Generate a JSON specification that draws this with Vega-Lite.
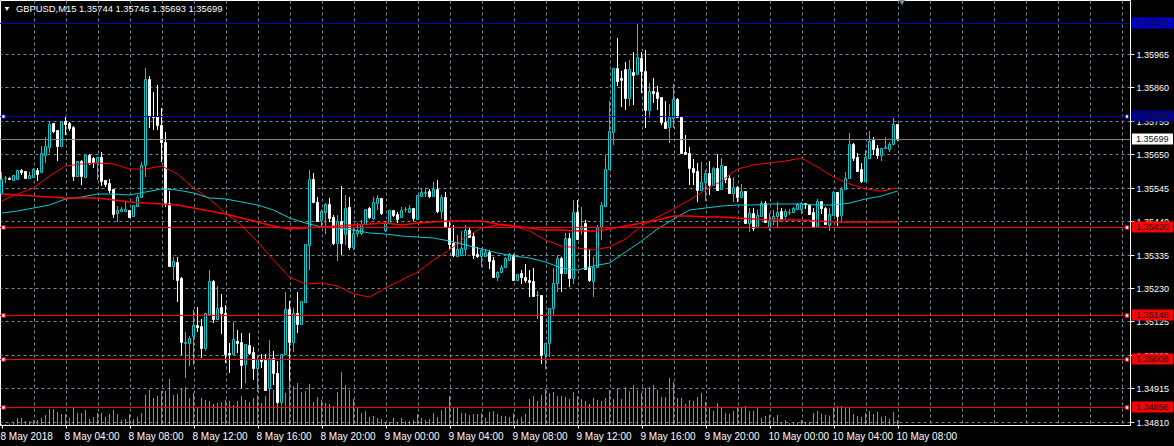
{"$schema":"https://vega.github.io/schema/vega-lite/v6.json","width":1130,"height":425,"autosize":{"type":"none"},"padding":{"left":0,"top":0,"right":44,"bottom":21},"background":"#000000","view":{"stroke":"#ffffff","strokeWidth":1,"fill":"#000000"},
"datasets":{
"bars":[
{"t":"2018-05-08T00:00Z","o":1.35529,"h":1.35595,"l":1.35529,"c":1.35573,"v":10},
{"t":"2018-05-08T00:15Z","o":1.35575,"h":1.35582,"l":1.3556,"c":1.35577,"v":10},
{"t":"2018-05-08T00:30Z","o":1.35577,"h":1.35579,"l":1.35569,"c":1.35573,"v":15},
{"t":"2018-05-08T00:45Z","o":1.3557,"h":1.35585,"l":1.35569,"c":1.35584,"v":20},
{"t":"2018-05-08T01:00Z","o":1.35573,"h":1.35601,"l":1.35569,"c":1.35601,"v":70},
{"t":"2018-05-08T01:15Z","o":1.35601,"h":1.35604,"l":1.35585,"c":1.35595,"v":70},
{"t":"2018-05-08T01:30Z","o":1.35598,"h":1.35598,"l":1.35575,"c":1.35575,"v":40},
{"t":"2018-05-08T01:45Z","o":1.35574,"h":1.35595,"l":1.35573,"c":1.35585,"v":40},
{"t":"2018-05-08T02:00Z","o":1.35579,"h":1.35607,"l":1.35579,"c":1.35604,"v":50},
{"t":"2018-05-08T02:15Z","o":1.35601,"h":1.35607,"l":1.35566,"c":1.35588,"v":50},
{"t":"2018-05-08T02:30Z","o":1.35595,"h":1.35676,"l":1.35591,"c":1.35655,"v":70},
{"t":"2018-05-08T02:45Z","o":1.35648,"h":1.35704,"l":1.35623,"c":1.35676,"v":100},
{"t":"2018-05-08T03:00Z","o":1.35673,"h":1.35752,"l":1.35655,"c":1.35745,"v":160},
{"t":"2018-05-08T03:15Z","o":1.35748,"h":1.35748,"l":1.35717,"c":1.35723,"v":160},
{"t":"2018-05-08T03:30Z","o":1.35726,"h":1.35726,"l":1.35629,"c":1.35676,"v":130},
{"t":"2018-05-08T03:45Z","o":1.35676,"h":1.35755,"l":1.35676,"c":1.35755,"v":110},
{"t":"2018-05-08T04:00Z","o":1.35755,"h":1.35767,"l":1.35711,"c":1.35745,"v":110},
{"t":"2018-05-08T04:15Z","o":1.35748,"h":1.35752,"l":1.35723,"c":1.35733,"v":70},
{"t":"2018-05-08T04:30Z","o":1.35736,"h":1.35739,"l":1.35566,"c":1.35582,"v":180},
{"t":"2018-05-08T04:45Z","o":1.35582,"h":1.35629,"l":1.35579,"c":1.35629,"v":120},
{"t":"2018-05-08T05:00Z","o":1.35629,"h":1.35632,"l":1.35553,"c":1.35582,"v":120},
{"t":"2018-05-08T05:15Z","o":1.35579,"h":1.35648,"l":1.35579,"c":1.35648,"v":150},
{"t":"2018-05-08T05:30Z","o":1.35648,"h":1.35651,"l":1.35616,"c":1.35623,"v":60},
{"t":"2018-05-08T05:45Z","o":1.35639,"h":1.35642,"l":1.35607,"c":1.35626,"v":80},
{"t":"2018-05-08T06:00Z","o":1.35626,"h":1.35642,"l":1.35569,"c":1.35642,"v":120},
{"t":"2018-05-08T06:15Z","o":1.35642,"h":1.35658,"l":1.3555,"c":1.35566,"v":120},
{"t":"2018-05-08T06:30Z","o":1.35569,"h":1.35569,"l":1.35547,"c":1.35557,"v":80},
{"t":"2018-05-08T06:45Z","o":1.3556,"h":1.35573,"l":1.35529,"c":1.35538,"v":110},
{"t":"2018-05-08T07:00Z","o":1.35541,"h":1.35541,"l":1.3545,"c":1.35462,"v":150},
{"t":"2018-05-08T07:15Z","o":1.35466,"h":1.35488,"l":1.35437,"c":1.35475,"v":110},
{"t":"2018-05-08T07:30Z","o":1.35472,"h":1.35484,"l":1.35469,"c":1.35478,"v":50},
{"t":"2018-05-08T07:45Z","o":1.35472,"h":1.355,"l":1.35469,"c":1.35477,"v":60},
{"t":"2018-05-08T08:00Z","o":1.35475,"h":1.35475,"l":1.3545,"c":1.35453,"v":110},
{"t":"2018-05-08T08:15Z","o":1.35456,"h":1.35491,"l":1.35453,"c":1.35491,"v":60},
{"t":"2018-05-08T08:30Z","o":1.35488,"h":1.35522,"l":1.35484,"c":1.35516,"v":80},
{"t":"2018-05-08T08:45Z","o":1.35516,"h":1.35626,"l":1.35513,"c":1.35616,"v":120},
{"t":"2018-05-08T09:00Z","o":1.35616,"h":1.35921,"l":1.35579,"c":1.35887,"v":300},
{"t":"2018-05-08T09:15Z","o":1.35887,"h":1.35896,"l":1.35733,"c":1.3577,"v":350},
{"t":"2018-05-08T09:30Z","o":1.3577,"h":1.35846,"l":1.35726,"c":1.35767,"v":270},
{"t":"2018-05-08T09:45Z","o":1.3577,"h":1.35868,"l":1.35726,"c":1.35742,"v":290},
{"t":"2018-05-08T10:00Z","o":1.35742,"h":1.35795,"l":1.35626,"c":1.35689,"v":340},
{"t":"2018-05-08T10:15Z","o":1.35689,"h":1.3572,"l":1.35484,"c":1.35497,"v":340},
{"t":"2018-05-08T10:30Z","o":1.35497,"h":1.35535,"l":1.35299,"c":1.35299,"v":460},
{"t":"2018-05-08T10:45Z","o":1.35299,"h":1.35327,"l":1.35255,"c":1.35315,"v":300},
{"t":"2018-05-08T11:00Z","o":1.35312,"h":1.35327,"l":1.35186,"c":1.35255,"v":310},
{"t":"2018-05-08T11:15Z","o":1.35261,"h":1.35264,"l":1.35019,"c":1.3506,"v":370},
{"t":"2018-05-08T11:30Z","o":1.35057,"h":1.35092,"l":1.34947,"c":1.3506,"v":380},
{"t":"2018-05-08T11:45Z","o":1.35057,"h":1.35079,"l":1.34985,"c":1.35072,"v":270},
{"t":"2018-05-08T12:00Z","o":1.35079,"h":1.35161,"l":1.34988,"c":1.35113,"v":320},
{"t":"2018-05-08T12:15Z","o":1.35113,"h":1.3517,"l":1.35092,"c":1.35107,"v":180},
{"t":"2018-05-08T12:30Z","o":1.3511,"h":1.35132,"l":1.3501,"c":1.35041,"v":270},
{"t":"2018-05-08T12:45Z","o":1.35041,"h":1.35151,"l":1.35032,"c":1.35151,"v":250},
{"t":"2018-05-08T13:00Z","o":1.35148,"h":1.35286,"l":1.35148,"c":1.35252,"v":240},
{"t":"2018-05-08T13:15Z","o":1.35252,"h":1.35255,"l":1.3512,"c":1.35132,"v":210},
{"t":"2018-05-08T13:30Z","o":1.35132,"h":1.35236,"l":1.35132,"c":1.35167,"v":220},
{"t":"2018-05-08T13:45Z","o":1.3517,"h":1.35211,"l":1.35085,"c":1.35151,"v":230},
{"t":"2018-05-08T14:00Z","o":1.35151,"h":1.35176,"l":1.34994,"c":1.35022,"v":250},
{"t":"2018-05-08T14:15Z","o":1.35025,"h":1.35057,"l":1.34962,"c":1.35022,"v":240},
{"t":"2018-05-08T14:30Z","o":1.35022,"h":1.35123,"l":1.35022,"c":1.35069,"v":200},
{"t":"2018-05-08T14:45Z","o":1.35063,"h":1.35098,"l":1.35025,"c":1.35057,"v":240},
{"t":"2018-05-08T15:00Z","o":1.3506,"h":1.35088,"l":1.34916,"c":1.34988,"v":290},
{"t":"2018-05-08T15:15Z","o":1.34991,"h":1.35054,"l":1.34931,"c":1.35054,"v":250},
{"t":"2018-05-08T15:30Z","o":1.35051,"h":1.35088,"l":1.35019,"c":1.35025,"v":230},
{"t":"2018-05-08T15:45Z","o":1.35028,"h":1.35044,"l":1.34941,"c":1.34979,"v":270},
{"t":"2018-05-08T16:00Z","o":1.34979,"h":1.35019,"l":1.34903,"c":1.35007,"v":300},
{"t":"2018-05-08T16:15Z","o":1.35007,"h":1.35022,"l":1.34979,"c":1.35001,"v":220},
{"t":"2018-05-08T16:30Z","o":1.35004,"h":1.35022,"l":1.34906,"c":1.34909,"v":290},
{"t":"2018-05-08T16:45Z","o":1.34916,"h":1.35066,"l":1.34916,"c":1.3501,"v":370},
{"t":"2018-05-08T17:00Z","o":1.3501,"h":1.35032,"l":1.34925,"c":1.34962,"v":350},
{"t":"2018-05-08T17:15Z","o":1.34962,"h":1.35001,"l":1.34865,"c":1.34872,"v":300},
{"t":"2018-05-08T17:30Z","o":1.34872,"h":1.35022,"l":1.34872,"c":1.35022,"v":370},
{"t":"2018-05-08T17:45Z","o":1.35022,"h":1.35217,"l":1.35019,"c":1.35164,"v":320},
{"t":"2018-05-08T18:00Z","o":1.35164,"h":1.35189,"l":1.34941,"c":1.3506,"v":450},
{"t":"2018-05-08T18:15Z","o":1.3506,"h":1.35167,"l":1.35028,"c":1.35151,"v":390},
{"t":"2018-05-08T18:30Z","o":1.35151,"h":1.35217,"l":1.35088,"c":1.35117,"v":420},
{"t":"2018-05-08T18:45Z","o":1.35117,"h":1.35189,"l":1.35113,"c":1.35189,"v":330},
{"t":"2018-05-08T19:00Z","o":1.35186,"h":1.35368,"l":1.35186,"c":1.35368,"v":340},
{"t":"2018-05-08T19:15Z","o":1.35365,"h":1.35601,"l":1.35286,"c":1.35573,"v":410},
{"t":"2018-05-08T19:30Z","o":1.35573,"h":1.35591,"l":1.35497,"c":1.355,"v":230},
{"t":"2018-05-08T19:45Z","o":1.355,"h":1.35516,"l":1.35437,"c":1.3544,"v":280},
{"t":"2018-05-08T20:00Z","o":1.35444,"h":1.35478,"l":1.35422,"c":1.35472,"v":250},
{"t":"2018-05-08T20:15Z","o":1.35469,"h":1.35497,"l":1.354,"c":1.35494,"v":220},
{"t":"2018-05-08T20:30Z","o":1.35494,"h":1.35513,"l":1.35437,"c":1.3545,"v":210},
{"t":"2018-05-08T20:45Z","o":1.35453,"h":1.35459,"l":1.35365,"c":1.35371,"v":190},
{"t":"2018-05-08T21:00Z","o":1.35371,"h":1.35459,"l":1.35315,"c":1.3544,"v":330},
{"t":"2018-05-08T21:15Z","o":1.3544,"h":1.3555,"l":1.35333,"c":1.35371,"v":530},
{"t":"2018-05-08T21:30Z","o":1.354,"h":1.35522,"l":1.35365,"c":1.35481,"v":400},
{"t":"2018-05-08T21:45Z","o":1.35484,"h":1.35516,"l":1.35349,"c":1.35359,"v":350},
{"t":"2018-05-08T22:00Z","o":1.35359,"h":1.35419,"l":1.35349,"c":1.35403,"v":260},
{"t":"2018-05-08T22:15Z","o":1.35403,"h":1.35434,"l":1.3539,"c":1.35412,"v":170},
{"t":"2018-05-08T22:30Z","o":1.35403,"h":1.35444,"l":1.35396,"c":1.35431,"v":120},
{"t":"2018-05-08T22:45Z","o":1.35431,"h":1.35478,"l":1.35428,"c":1.35478,"v":140},
{"t":"2018-05-08T23:00Z","o":1.35481,"h":1.35484,"l":1.35447,"c":1.35453,"v":80},
{"t":"2018-05-08T23:15Z","o":1.3545,"h":1.35516,"l":1.35444,"c":1.355,"v":90},
{"t":"2018-05-08T23:30Z","o":1.35497,"h":1.35522,"l":1.35475,"c":1.35513,"v":70},
{"t":"2018-05-08T23:45Z","o":1.35513,"h":1.35513,"l":1.35459,"c":1.35466,"v":60},
{"t":"2018-05-09T00:00Z","o":1.35412,"h":1.3544,"l":1.35406,"c":1.35434,"v":30},
{"t":"2018-05-09T00:15Z","o":1.35434,"h":1.35475,"l":1.35434,"c":1.35475,"v":30},
{"t":"2018-05-09T00:30Z","o":1.35475,"h":1.35475,"l":1.35453,"c":1.35459,"v":70},
{"t":"2018-05-09T00:45Z","o":1.35462,"h":1.35469,"l":1.35434,"c":1.35447,"v":30},
{"t":"2018-05-09T01:00Z","o":1.35453,"h":1.35484,"l":1.35453,"c":1.35475,"v":70},
{"t":"2018-05-09T01:15Z","o":1.35477,"h":1.35484,"l":1.35469,"c":1.35477,"v":40},
{"t":"2018-05-09T01:30Z","o":1.35469,"h":1.35491,"l":1.35469,"c":1.35481,"v":40},
{"t":"2018-05-09T01:45Z","o":1.35481,"h":1.35481,"l":1.3544,"c":1.3545,"v":50},
{"t":"2018-05-09T02:00Z","o":1.35447,"h":1.35522,"l":1.35447,"c":1.35522,"v":110},
{"t":"2018-05-09T02:15Z","o":1.35519,"h":1.35544,"l":1.35516,"c":1.35532,"v":70},
{"t":"2018-05-09T02:30Z","o":1.35529,"h":1.35544,"l":1.35516,"c":1.35532,"v":50},
{"t":"2018-05-09T02:45Z","o":1.35535,"h":1.35541,"l":1.35513,"c":1.35519,"v":60},
{"t":"2018-05-09T03:00Z","o":1.35519,"h":1.35563,"l":1.35516,"c":1.35541,"v":120},
{"t":"2018-05-09T03:15Z","o":1.35541,"h":1.35569,"l":1.35466,"c":1.35472,"v":80},
{"t":"2018-05-09T03:30Z","o":1.35472,"h":1.35522,"l":1.35447,"c":1.35516,"v":150},
{"t":"2018-05-09T03:45Z","o":1.35516,"h":1.35532,"l":1.35419,"c":1.35422,"v":170},
{"t":"2018-05-09T04:00Z","o":1.35422,"h":1.35437,"l":1.35352,"c":1.35368,"v":290},
{"t":"2018-05-09T04:15Z","o":1.35371,"h":1.35428,"l":1.35327,"c":1.35333,"v":170},
{"t":"2018-05-09T04:30Z","o":1.3533,"h":1.35396,"l":1.35327,"c":1.35352,"v":170},
{"t":"2018-05-09T04:45Z","o":1.35333,"h":1.35409,"l":1.3533,"c":1.35355,"v":120},
{"t":"2018-05-09T05:00Z","o":1.35352,"h":1.35428,"l":1.3533,"c":1.35412,"v":120},
{"t":"2018-05-09T05:15Z","o":1.35412,"h":1.35419,"l":1.3539,"c":1.3539,"v":100},
{"t":"2018-05-09T05:30Z","o":1.35393,"h":1.35403,"l":1.35321,"c":1.35333,"v":110},
{"t":"2018-05-09T05:45Z","o":1.35337,"h":1.35359,"l":1.35324,"c":1.3533,"v":110},
{"t":"2018-05-09T06:00Z","o":1.3533,"h":1.35355,"l":1.35296,"c":1.35349,"v":120},
{"t":"2018-05-09T06:15Z","o":1.3533,"h":1.35352,"l":1.35327,"c":1.35343,"v":70},
{"t":"2018-05-09T06:30Z","o":1.35343,"h":1.35349,"l":1.3529,"c":1.35315,"v":130},
{"t":"2018-05-09T06:45Z","o":1.35318,"h":1.35327,"l":1.35261,"c":1.35264,"v":140},
{"t":"2018-05-09T07:00Z","o":1.35264,"h":1.35283,"l":1.35252,"c":1.3528,"v":110},
{"t":"2018-05-09T07:15Z","o":1.3528,"h":1.35302,"l":1.3528,"c":1.35296,"v":90},
{"t":"2018-05-09T07:30Z","o":1.35296,"h":1.35327,"l":1.35296,"c":1.35324,"v":90},
{"t":"2018-05-09T07:45Z","o":1.35318,"h":1.3534,"l":1.35318,"c":1.35337,"v":80},
{"t":"2018-05-09T08:00Z","o":1.35333,"h":1.35337,"l":1.35252,"c":1.35255,"v":120},
{"t":"2018-05-09T08:15Z","o":1.35255,"h":1.35273,"l":1.35252,"c":1.35273,"v":60},
{"t":"2018-05-09T08:30Z","o":1.35277,"h":1.35286,"l":1.35242,"c":1.35264,"v":80},
{"t":"2018-05-09T08:45Z","o":1.35264,"h":1.35305,"l":1.35245,"c":1.35255,"v":110},
{"t":"2018-05-09T09:00Z","o":1.35255,"h":1.35286,"l":1.35202,"c":1.35249,"v":260},
{"t":"2018-05-09T09:15Z","o":1.35252,"h":1.35293,"l":1.35202,"c":1.35205,"v":290},
{"t":"2018-05-09T09:30Z","o":1.35208,"h":1.35221,"l":1.35132,"c":1.35208,"v":240},
{"t":"2018-05-09T09:45Z","o":1.35208,"h":1.35208,"l":1.34991,"c":1.35019,"v":300},
{"t":"2018-05-09T10:00Z","o":1.35022,"h":1.35057,"l":1.34975,"c":1.35057,"v":360},
{"t":"2018-05-09T10:15Z","o":1.35057,"h":1.35167,"l":1.35013,"c":1.35167,"v":320},
{"t":"2018-05-09T10:30Z","o":1.35167,"h":1.35293,"l":1.35145,"c":1.35245,"v":330},
{"t":"2018-05-09T10:45Z","o":1.35245,"h":1.35333,"l":1.35217,"c":1.35324,"v":290},
{"t":"2018-05-09T11:00Z","o":1.35324,"h":1.35327,"l":1.35217,"c":1.35277,"v":290},
{"t":"2018-05-09T11:15Z","o":1.35277,"h":1.35403,"l":1.35277,"c":1.35387,"v":280},
{"t":"2018-05-09T11:30Z","o":1.35387,"h":1.35403,"l":1.35233,"c":1.35261,"v":260},
{"t":"2018-05-09T11:45Z","o":1.35261,"h":1.35506,"l":1.35242,"c":1.35469,"v":330},
{"t":"2018-05-09T12:00Z","o":1.35469,"h":1.35506,"l":1.35381,"c":1.35384,"v":290},
{"t":"2018-05-09T12:15Z","o":1.35415,"h":1.35484,"l":1.35396,"c":1.35425,"v":260},
{"t":"2018-05-09T12:30Z","o":1.35434,"h":1.35444,"l":1.3529,"c":1.3529,"v":240},
{"t":"2018-05-09T12:45Z","o":1.35296,"h":1.35349,"l":1.35249,"c":1.35255,"v":210},
{"t":"2018-05-09T13:00Z","o":1.35252,"h":1.35327,"l":1.35202,"c":1.35296,"v":270},
{"t":"2018-05-09T13:15Z","o":1.35296,"h":1.35428,"l":1.35293,"c":1.35422,"v":250},
{"t":"2018-05-09T13:30Z","o":1.35422,"h":1.355,"l":1.35381,"c":1.35491,"v":240},
{"t":"2018-05-09T13:45Z","o":1.35488,"h":1.35648,"l":1.35488,"c":1.35604,"v":270},
{"t":"2018-05-09T14:00Z","o":1.35604,"h":1.35818,"l":1.35604,"c":1.35723,"v":350},
{"t":"2018-05-09T14:15Z","o":1.3572,"h":1.35921,"l":1.35679,"c":1.35921,"v":260},
{"t":"2018-05-09T14:30Z","o":1.35921,"h":1.36016,"l":1.35865,"c":1.35881,"v":370},
{"t":"2018-05-09T14:45Z","o":1.3589,"h":1.35912,"l":1.35799,"c":1.35884,"v":260},
{"t":"2018-05-09T15:00Z","o":1.35918,"h":1.3594,"l":1.35789,"c":1.35827,"v":380},
{"t":"2018-05-09T15:15Z","o":1.35827,"h":1.35946,"l":1.35802,"c":1.35918,"v":340},
{"t":"2018-05-09T15:30Z","o":1.35909,"h":1.35972,"l":1.35805,"c":1.35899,"v":400},
{"t":"2018-05-09T15:45Z","o":1.35902,"h":1.36063,"l":1.35899,"c":1.35956,"v":350},
{"t":"2018-05-09T16:00Z","o":1.35953,"h":1.35972,"l":1.35843,"c":1.35912,"v":320},
{"t":"2018-05-09T16:15Z","o":1.35912,"h":1.35978,"l":1.35733,"c":1.35789,"v":370},
{"t":"2018-05-09T16:30Z","o":1.35789,"h":1.35874,"l":1.35764,"c":1.35849,"v":380},
{"t":"2018-05-09T16:45Z","o":1.35849,"h":1.3589,"l":1.35811,"c":1.35843,"v":400},
{"t":"2018-05-09T17:00Z","o":1.35846,"h":1.35865,"l":1.35789,"c":1.35827,"v":350},
{"t":"2018-05-09T17:15Z","o":1.3583,"h":1.3583,"l":1.35742,"c":1.35752,"v":280},
{"t":"2018-05-09T17:30Z","o":1.35752,"h":1.35818,"l":1.35733,"c":1.35733,"v":280},
{"t":"2018-05-09T17:45Z","o":1.35736,"h":1.35808,"l":1.35686,"c":1.35767,"v":470},
{"t":"2018-05-09T18:00Z","o":1.35764,"h":1.35871,"l":1.35733,"c":1.35824,"v":430},
{"t":"2018-05-09T18:15Z","o":1.35824,"h":1.35827,"l":1.35767,"c":1.35767,"v":270},
{"t":"2018-05-09T18:30Z","o":1.35767,"h":1.35767,"l":1.35655,"c":1.35655,"v":270},
{"t":"2018-05-09T18:45Z","o":1.35658,"h":1.35711,"l":1.35651,"c":1.35651,"v":210},
{"t":"2018-05-09T19:00Z","o":1.35655,"h":1.35673,"l":1.35553,"c":1.35607,"v":250},
{"t":"2018-05-09T19:15Z","o":1.35607,"h":1.35635,"l":1.35553,"c":1.35595,"v":240},
{"t":"2018-05-09T19:30Z","o":1.35598,"h":1.35623,"l":1.355,"c":1.35538,"v":280},
{"t":"2018-05-09T19:45Z","o":1.35538,"h":1.35626,"l":1.35535,"c":1.35563,"v":320},
{"t":"2018-05-09T20:00Z","o":1.35563,"h":1.35601,"l":1.35503,"c":1.35591,"v":230},
{"t":"2018-05-09T20:15Z","o":1.35591,"h":1.35629,"l":1.35522,"c":1.35553,"v":170},
{"t":"2018-05-09T20:30Z","o":1.35553,"h":1.3561,"l":1.35553,"c":1.35607,"v":140},
{"t":"2018-05-09T20:45Z","o":1.35607,"h":1.35651,"l":1.35535,"c":1.35538,"v":220},
{"t":"2018-05-09T21:00Z","o":1.35541,"h":1.35639,"l":1.35538,"c":1.35616,"v":170},
{"t":"2018-05-09T21:15Z","o":1.35613,"h":1.35613,"l":1.3556,"c":1.35573,"v":120},
{"t":"2018-05-09T21:30Z","o":1.35575,"h":1.35585,"l":1.35525,"c":1.35529,"v":110},
{"t":"2018-05-09T21:45Z","o":1.35529,"h":1.35579,"l":1.355,"c":1.35547,"v":140},
{"t":"2018-05-09T22:00Z","o":1.35547,"h":1.3555,"l":1.355,"c":1.35516,"v":170},
{"t":"2018-05-09T22:15Z","o":1.35516,"h":1.35557,"l":1.35516,"c":1.35535,"v":170},
{"t":"2018-05-09T22:30Z","o":1.35535,"h":1.35535,"l":1.35434,"c":1.35434,"v":190},
{"t":"2018-05-09T22:45Z","o":1.35434,"h":1.35481,"l":1.35406,"c":1.35466,"v":140},
{"t":"2018-05-09T23:00Z","o":1.35466,"h":1.35481,"l":1.35409,"c":1.35419,"v":140},
{"t":"2018-05-09T23:15Z","o":1.35422,"h":1.35475,"l":1.35422,"c":1.35459,"v":170},
{"t":"2018-05-09T23:30Z","o":1.35456,"h":1.35503,"l":1.35453,"c":1.35497,"v":70},
{"t":"2018-05-09T23:45Z","o":1.35497,"h":1.35503,"l":1.35434,"c":1.35437,"v":90},
{"t":"2018-05-10T00:00Z","o":1.35422,"h":1.35466,"l":1.35409,"c":1.35444,"v":100},
{"t":"2018-05-10T00:15Z","o":1.35444,"h":1.35475,"l":1.35428,"c":1.35456,"v":80},
{"t":"2018-05-10T00:30Z","o":1.35456,"h":1.355,"l":1.35419,"c":1.35469,"v":100},
{"t":"2018-05-10T00:45Z","o":1.35472,"h":1.35481,"l":1.35447,"c":1.35447,"v":30},
{"t":"2018-05-10T01:00Z","o":1.35456,"h":1.35478,"l":1.35447,"c":1.35472,"v":50},
{"t":"2018-05-10T01:15Z","o":1.35469,"h":1.35478,"l":1.35459,"c":1.35469,"v":20},
{"t":"2018-05-10T01:30Z","o":1.35469,"h":1.35484,"l":1.35469,"c":1.35481,"v":20},
{"t":"2018-05-10T01:45Z","o":1.35478,"h":1.35497,"l":1.35478,"c":1.35494,"v":20},
{"t":"2018-05-10T02:00Z","o":1.35478,"h":1.355,"l":1.35462,"c":1.35497,"v":50},
{"t":"2018-05-10T02:15Z","o":1.35497,"h":1.35497,"l":1.35478,"c":1.35494,"v":20},
{"t":"2018-05-10T02:30Z","o":1.35491,"h":1.35491,"l":1.35459,"c":1.35462,"v":30},
{"t":"2018-05-10T02:45Z","o":1.35469,"h":1.35481,"l":1.35419,"c":1.35422,"v":120},
{"t":"2018-05-10T03:00Z","o":1.35422,"h":1.3551,"l":1.35422,"c":1.35503,"v":140},
{"t":"2018-05-10T03:15Z","o":1.35503,"h":1.35503,"l":1.35462,"c":1.35481,"v":110},
{"t":"2018-05-10T03:30Z","o":1.35481,"h":1.35484,"l":1.35428,"c":1.35431,"v":100},
{"t":"2018-05-10T03:45Z","o":1.35428,"h":1.35481,"l":1.35409,"c":1.35462,"v":90},
{"t":"2018-05-10T04:00Z","o":1.35459,"h":1.35535,"l":1.35456,"c":1.35532,"v":180},
{"t":"2018-05-10T04:15Z","o":1.35532,"h":1.35532,"l":1.35425,"c":1.35456,"v":190},
{"t":"2018-05-10T04:30Z","o":1.35459,"h":1.35547,"l":1.35434,"c":1.35541,"v":190},
{"t":"2018-05-10T04:45Z","o":1.35541,"h":1.35595,"l":1.35541,"c":1.35575,"v":180},
{"t":"2018-05-10T05:00Z","o":1.35575,"h":1.35717,"l":1.35575,"c":1.35682,"v":170},
{"t":"2018-05-10T05:15Z","o":1.35682,"h":1.35686,"l":1.35629,"c":1.35639,"v":110},
{"t":"2018-05-10T05:30Z","o":1.35642,"h":1.35655,"l":1.35598,"c":1.35598,"v":90},
{"t":"2018-05-10T05:45Z","o":1.35604,"h":1.35623,"l":1.3556,"c":1.35566,"v":80},
{"t":"2018-05-10T06:00Z","o":1.35566,"h":1.35664,"l":1.35566,"c":1.35642,"v":120},
{"t":"2018-05-10T06:15Z","o":1.35639,"h":1.35723,"l":1.35639,"c":1.35692,"v":140},
{"t":"2018-05-10T06:30Z","o":1.35695,"h":1.35704,"l":1.35648,"c":1.35667,"v":110},
{"t":"2018-05-10T06:45Z","o":1.3567,"h":1.35679,"l":1.35635,"c":1.35648,"v":130},
{"t":"2018-05-10T07:00Z","o":1.35648,"h":1.3567,"l":1.35629,"c":1.3567,"v":80},
{"t":"2018-05-10T07:15Z","o":1.3567,"h":1.35704,"l":1.35667,"c":1.35673,"v":90},
{"t":"2018-05-10T07:30Z","o":1.35667,"h":1.35689,"l":1.35658,"c":1.35682,"v":60},
{"t":"2018-05-10T07:45Z","o":1.35682,"h":1.35764,"l":1.35682,"c":1.35745,"v":130},
{"t":"2018-05-10T08:00Z","o":1.35744,"h":1.35745,"l":1.35693,"c":1.35699,"v":50}
],
"ma":[
{"t":"2018-05-08T00:00Z","fast":1.35503,"mid":1.35467,"slow":1.35525},
{"t":"2018-05-08T01:00Z","fast":1.35524,"mid":1.35473,"slow":1.35522},
{"t":"2018-05-08T02:00Z","fast":1.35544,"mid":1.35481,"slow":1.35519},
{"t":"2018-05-08T03:00Z","fast":1.35582,"mid":1.35491,"slow":1.35517},
{"t":"2018-05-08T04:00Z","fast":1.35613,"mid":1.3551,"slow":1.35514},
{"t":"2018-05-08T05:00Z","fast":1.35621,"mid":1.35517,"slow":1.35514},
{"t":"2018-05-08T06:00Z","fast":1.35623,"mid":1.35525,"slow":1.35514},
{"t":"2018-05-08T07:00Z","fast":1.35619,"mid":1.35524,"slow":1.35506},
{"t":"2018-05-08T08:00Z","fast":1.35604,"mid":1.35522,"slow":1.355},
{"t":"2018-05-08T09:00Z","fast":1.35604,"mid":1.3553,"slow":1.35497},
{"t":"2018-05-08T10:00Z","fast":1.35613,"mid":1.35541,"slow":1.35494},
{"t":"2018-05-08T11:00Z","fast":1.35588,"mid":1.35538,"slow":1.35491},
{"t":"2018-05-08T12:00Z","fast":1.35544,"mid":1.35527,"slow":1.3548},
{"t":"2018-05-08T13:00Z","fast":1.3551,"mid":1.35513,"slow":1.35472},
{"t":"2018-05-08T14:00Z","fast":1.35466,"mid":1.3551,"slow":1.35462},
{"t":"2018-05-08T15:00Z","fast":1.35428,"mid":1.355,"slow":1.3545},
{"t":"2018-05-08T16:00Z","fast":1.35374,"mid":1.35492,"slow":1.35437},
{"t":"2018-05-08T17:00Z","fast":1.35318,"mid":1.35475,"slow":1.35425},
{"t":"2018-05-08T18:00Z","fast":1.35264,"mid":1.3545,"slow":1.35415},
{"t":"2018-05-08T19:00Z","fast":1.35242,"mid":1.35434,"slow":1.35417},
{"t":"2018-05-08T20:00Z","fast":1.35244,"mid":1.35423,"slow":1.35422},
{"t":"2018-05-08T21:00Z","fast":1.35236,"mid":1.35419,"slow":1.35425},
{"t":"2018-05-08T22:00Z","fast":1.35211,"mid":1.35412,"slow":1.35428},
{"t":"2018-05-08T23:00Z","fast":1.35202,"mid":1.35403,"slow":1.35431},
{"t":"2018-05-09T00:00Z","fast":1.3523,"mid":1.35398,"slow":1.35434},
{"t":"2018-05-09T01:00Z","fast":1.35255,"mid":1.35393,"slow":1.35429},
{"t":"2018-05-09T02:00Z","fast":1.3528,"mid":1.3539,"slow":1.35434},
{"t":"2018-05-09T03:00Z","fast":1.35318,"mid":1.35387,"slow":1.35437},
{"t":"2018-05-09T04:00Z","fast":1.35349,"mid":1.35379,"slow":1.3544},
{"t":"2018-05-09T05:00Z","fast":1.3539,"mid":1.35365,"slow":1.3544},
{"t":"2018-05-09T06:00Z","fast":1.35419,"mid":1.35351,"slow":1.3544},
{"t":"2018-05-09T07:00Z","fast":1.35428,"mid":1.35341,"slow":1.35432},
{"t":"2018-05-09T08:00Z","fast":1.35425,"mid":1.3533,"slow":1.35425},
{"t":"2018-05-09T09:00Z","fast":1.35409,"mid":1.35323,"slow":1.35419},
{"t":"2018-05-09T10:00Z","fast":1.35381,"mid":1.35312,"slow":1.35412},
{"t":"2018-05-09T11:00Z","fast":1.35362,"mid":1.35293,"slow":1.35411},
{"t":"2018-05-09T12:00Z","fast":1.35355,"mid":1.35286,"slow":1.35409},
{"t":"2018-05-09T13:00Z","fast":1.35349,"mid":1.35299,"slow":1.35409},
{"t":"2018-05-09T14:00Z","fast":1.35359,"mid":1.35308,"slow":1.35414},
{"t":"2018-05-09T15:00Z","fast":1.35384,"mid":1.35343,"slow":1.35425},
{"t":"2018-05-09T16:00Z","fast":1.35425,"mid":1.35378,"slow":1.35434},
{"t":"2018-05-09T17:00Z","fast":1.35453,"mid":1.35415,"slow":1.35445},
{"t":"2018-05-09T18:00Z","fast":1.35478,"mid":1.35447,"slow":1.35455},
{"t":"2018-05-09T19:00Z","fast":1.35506,"mid":1.35475,"slow":1.35456},
{"t":"2018-05-09T20:00Z","fast":1.35538,"mid":1.35481,"slow":1.35453},
{"t":"2018-05-09T21:00Z","fast":1.35566,"mid":1.35488,"slow":1.35452},
{"t":"2018-05-09T22:00Z","fast":1.35604,"mid":1.35491,"slow":1.3545},
{"t":"2018-05-09T23:00Z","fast":1.35616,"mid":1.35492,"slow":1.35448},
{"t":"2018-05-10T00:00Z","fast":1.35623,"mid":1.35494,"slow":1.35445},
{"t":"2018-05-10T01:00Z","fast":1.35629,"mid":1.35494,"slow":1.35444},
{"t":"2018-05-10T02:00Z","fast":1.35639,"mid":1.35494,"slow":1.35442},
{"t":"2018-05-10T03:00Z","fast":1.3561,"mid":1.35491,"slow":1.3544},
{"t":"2018-05-10T04:00Z","fast":1.35579,"mid":1.35491,"slow":1.35437},
{"t":"2018-05-10T05:00Z","fast":1.35557,"mid":1.35497,"slow":1.35437},
{"t":"2018-05-10T06:00Z","fast":1.35541,"mid":1.35508,"slow":1.35437},
{"t":"2018-05-10T07:00Z","fast":1.35535,"mid":1.35519,"slow":1.35437},
{"t":"2018-05-10T08:00Z","fast":1.35543,"mid":1.35535,"slow":1.35437}
],
"levels":[
{"p":1.36062,"kind":"upper","selected":false},
{"p":1.35769,"kind":"near","selected":true},
{"p":1.35699,"kind":"bid","selected":false},
{"p":1.3542,"kind":"support","selected":true},
{"p":1.35146,"kind":"support","selected":true},
{"p":1.35008,"kind":"support","selected":true},
{"p":1.34856,"kind":"support","selected":true}
],
"caption":[{"label":"GBPUSD,M15  1.35744 1.35745 1.35693 1.35699"}]
},
"layer":[
{"data":{"name":"bars"},"mark":{"type":"bar","size":1,"color":"#32cd32"},
"encoding":{
"x":{"field":"t","type":"temporal","scale":{"type":"utc","padding":0,"domain":[1525737262500,1525991512500]},"axis":{"title":null,"orient":"bottom","domain":false,"ticks":false,"labels":false,"grid":true,"tickCount":100,"gridColor":"#778899","gridDash":[3,3],"gridWidth":1,"values":[1525744800000,1525752000000,1525759200000,1525766400000,1525773600000,1525780800000,1525788000000,1525795200000,1525802400000,1525809600000,1525816800000,1525824000000,1525831200000,1525838400000,1525845600000,1525852800000,1525860000000,1525867200000,1525874400000,1525881600000,1525888800000,1525896000000,1525903200000,1525910400000,1525917600000,1525924800000,1525932000000,1525939200000,1525946400000,1525953600000,1525960800000,1525968000000,1525975200000,1525982400000,1525989600000]}},
"y":{"field":"v","type":"quantitative","scale":{"domain":[0,4250]},"axis":null}}},
{"layer":[
{"data":{"name":"bars"},"mark":{"type":"rule","strokeWidth":1},
"encoding":{
"x":{"field":"t","type":"temporal","scale":{"type":"utc","padding":0,"domain":[1525737262500,1525991512500]},"axis":{"title":null,"orient":"bottom","domain":false,"grid":false,"ticks":true,"tickCount":100,"tickColor":"#ffffff","tickSize":3,"labelColor":"#ffffff","labelFont":"Liberation Sans","labelFontSize":10,"labelAlign":"left","labelBaseline":"top","labelPadding":3,"labelOffset":-1.5,"labelBound":false,"labelFlush":false,"labelOverlap":false,"labelExpr":"datum.index == 0 ? '8 May 2018' : utcFormat(datum.value, '%-d %b %H:%M')","values":[1525737600000,1525752000000,1525766400000,1525780800000,1525795200000,1525809600000,1525824000000,1525838400000,1525852800000,1525867200000,1525881600000,1525896000000,1525910400000,1525924800000,1525939200000]}},
"y":{"field":"h","type":"quantitative","scale":{"domain":[1.347992,1.36135],"round":true},"axis":{"orient":"right","title":null,"domain":false,"grid":true,"tickCount":100,"gridColor":"#778899","gridDash":[3,3],"gridWidth":1,"tickColor":"#ffffff","tickSize":4,"labelColor":"#ffffff","labelFont":"Liberation Sans","labelFontSize":9,"labelPadding":2,"labelOverlap":false,"labelBound":false,"labelFlush":false,"format":".5f","values":[1.35965,1.3586,1.35755,1.3565,1.35545,1.3544,1.35335,1.3523,1.35125,1.3502,1.34915,1.3481]}},
"y2":{"field":"l"},
"color":{"condition":[{"test":"datum.o == datum.c","value":"#00ff00"},{"test":"datum.c > datum.o","value":"#00ced1"}],"value":"#ffffff"}}},
{"data":{"name":"bars"},"mark":{"type":"bar","size":2,"strokeWidth":1,"orient":"vertical","yOffset":0.5,"y2Offset":0.5},
"encoding":{
"x":{"field":"t","type":"temporal","scale":{"type":"utc","padding":0,"domain":[1525737262500,1525991512500]}},
"y":{"field":"o","type":"quantitative","scale":{"domain":[1.347992,1.36135],"round":true}},
"y2":{"field":"c"},
"fill":{"condition":[{"test":"datum.o == datum.c","value":"#00ff00"},{"test":"datum.c > datum.o","value":"#000000"}],"value":"#ffffff"},
"stroke":{"condition":[{"test":"datum.o == datum.c","value":"#00ff00"},{"test":"datum.c > datum.o","value":"#00ced1"}],"value":"#ffffff"}}},
{"data":{"name":"ma"},"mark":{"type":"line","color":"#ff0000","strokeWidth":1},
"encoding":{"x":{"field":"t","type":"temporal","scale":{"type":"utc","padding":0,"domain":[1525737262500,1525991512500]}},"y":{"field":"fast","type":"quantitative","scale":{"domain":[1.347992,1.36135],"round":true}}}},
{"data":{"name":"ma"},"mark":{"type":"line","color":"#00ced1","strokeWidth":1},
"encoding":{"x":{"field":"t","type":"temporal","scale":{"type":"utc","padding":0,"domain":[1525737262500,1525991512500]}},"y":{"field":"mid","type":"quantitative","scale":{"domain":[1.347992,1.36135],"round":true}}}},
{"data":{"name":"ma"},"mark":{"type":"line","color":"#ff0000","strokeWidth":1.5},
"encoding":{"x":{"field":"t","type":"temporal","scale":{"type":"utc","padding":0,"domain":[1525737262500,1525991512500]}},"y":{"field":"slow","type":"quantitative","scale":{"domain":[1.347992,1.36135],"round":true}}}},
{"data":{"name":"levels"},"mark":{"type":"rule","strokeWidth":1,"yOffset":0.5},
"encoding":{"y":{"field":"p","type":"quantitative","scale":{"domain":[1.347992,1.36135],"round":true}},
"color":{"field":"kind","type":"nominal","legend":null,"scale":{"domain":["upper","near","bid","support"],"range":["#0000c0","#0000c0","#808080","#ff0000"]}}}},
{"data":{"name":"levels"},"transform":[{"filter":"datum.selected"}],"mark":{"type":"point","shape":"square","size":12,"filled":false,"fill":"#ffffff","strokeWidth":1,"opacity":1,"yOffset":0.5},
"encoding":{"x":{"datum":1525738050000,"type":"temporal","scale":{"type":"utc","padding":0,"domain":[1525737262500,1525991512500]}},"y":{"field":"p","type":"quantitative","scale":{"domain":[1.347992,1.36135],"round":true}},
"color":{"field":"kind","type":"nominal","legend":null}}},
{"data":{"name":"levels"},"transform":[{"filter":"datum.selected"}],"mark":{"type":"point","shape":"square","size":12,"filled":false,"fill":"#ffffff","strokeWidth":1,"opacity":1,"yOffset":0.5},
"encoding":{"x":{"datum":1525990837500,"type":"temporal","scale":{"type":"utc","padding":0,"domain":[1525737262500,1525991512500]}},"y":{"field":"p","type":"quantitative","scale":{"domain":[1.347992,1.36135],"round":true}},
"color":{"field":"kind","type":"nominal","legend":null}}},
{"data":{"name":"levels"},"mark":{"type":"rule","strokeWidth":11,"strokeCap":"butt"},
"encoding":{"x":{"datum":1525991962500,"type":"temporal","scale":{"type":"utc","padding":0,"domain":[1525737262500,1525991512500]}},"x2":{"datum":1526001187500},"y":{"field":"p","type":"quantitative","scale":{"domain":[1.347992,1.36135],"round":true}},
"stroke":{"field":"kind","type":"nominal","legend":null,"scale":{"domain":["upper","near","bid","support"],"range":["#0000cd","#000090","#ffffff","#ff0000"]}}}},
{"data":{"name":"levels"},"mark":{"type":"text","align":"left","baseline":"middle","font":"Liberation Sans","fontSize":9,"color":"#101010"},
"encoding":{"x":{"datum":1525992862500,"type":"temporal","scale":{"type":"utc","padding":0,"domain":[1525737262500,1525991512500]}},"y":{"field":"p","type":"quantitative","scale":{"domain":[1.347992,1.36135],"round":true}},"text":{"field":"p","type":"quantitative","format":".5f"}}},
{"data":{"name":"caption"},"mark":{"type":"text","align":"left","baseline":"middle","font":"Liberation Sans","fontSize":9.4,"color":"#ffffff"},
"encoding":{"x":{"datum":1525740862500,"type":"temporal","scale":{"type":"utc","padding":0,"domain":[1525737262500,1525991512500]}},"y":{"datum":1.36108,"type":"quantitative","scale":{"domain":[1.347992,1.36135],"round":true}},"text":{"field":"label","type":"nominal"}}},
{"data":{"name":"caption"},"mark":{"type":"point","shape":"triangle-down","size":22,"filled":true,"color":"#ffffff","opacity":1},
"encoding":{"x":{"datum":1525738837500,"type":"temporal","scale":{"type":"utc","padding":0,"domain":[1525737262500,1525991512500]}},"y":{"datum":1.36108,"type":"quantitative","scale":{"domain":[1.347992,1.36135],"round":true}}}},
{"data":{"name":"caption"},"mark":{"type":"point","shape":"triangle-down","size":60,"filled":true,"color":"#778899","opacity":1},
"encoding":{"x":{"datum":1525940212500,"type":"temporal","scale":{"type":"utc","padding":0,"domain":[1525737262500,1525991512500]}},"y":{"datum":1.36129,"type":"quantitative","scale":{"domain":[1.347992,1.36135],"round":true}}}}
]}
],
"resolve":{"scale":{"y":"independent"},"axis":{"x":"independent","y":"independent"}}
}
